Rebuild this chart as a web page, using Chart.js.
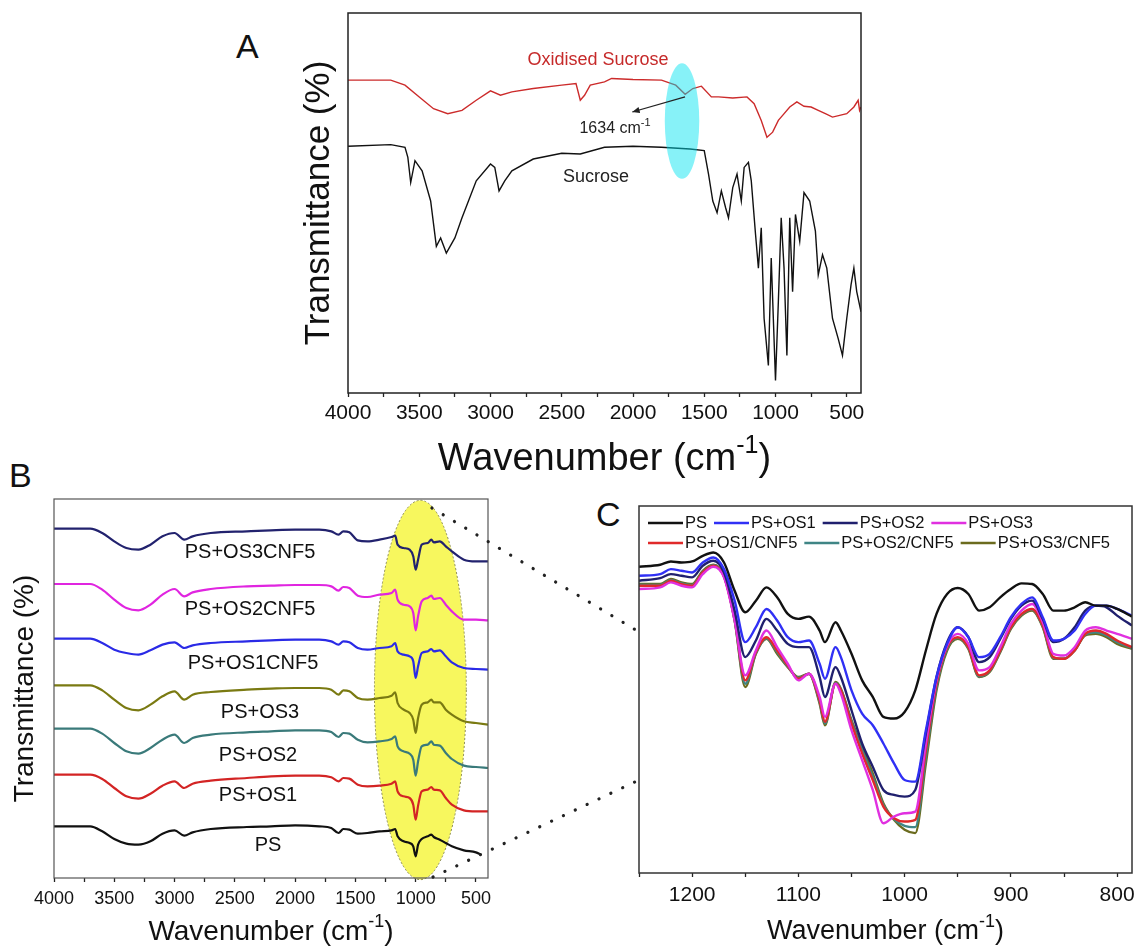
<!DOCTYPE html>
<html>
<head>
<meta charset="utf-8">
<script src="https://cdn.jsdelivr.net/npm/chart.js@4.4.0/dist/chart.umd.min.js"></script>
<style>
body { margin: 0; background: #fff; width: 1137px; height: 947px; position: relative; overflow: hidden; font-family: "Liberation Sans", Arial, sans-serif; }
canvas { position: absolute; }
.tag { position: absolute; font-size: 34px; line-height: 34px; color: #111; }
</style>
</head>
<body>
<div class="tag" style="left:236px;top:29px">A</div>
<div class="tag" style="left:9px;top:458px">B</div>
<div class="tag" style="left:596px;top:497px">C</div>
<canvas id="chartA" width="590" height="480" style="left:290px;top:0"></canvas>
<canvas id="chartB" width="510" height="457" style="left:0;top:490px"></canvas>
<canvas id="chartC" width="580" height="457" style="left:600px;top:490px"></canvas>
<canvas id="links" width="1137" height="947" style="left:0;top:0;pointer-events:none"></canvas>
<script>
// ---- panel A: sucrose vs oxidised sucrose (transmittance, a.u.)
var wnOxidised = [4000,3700,3600,3500,3400,3300,3200,3100,3000,2930,2850,2700,2500,2400,2370,2340,2300,2200,2150,2000,1800,1700,1634,1580,1520,1450,1400,1300,1200,1150,1100,1060,1020,980,950,900,850,800,750,700,650,600,550,500,450,420,410,400];
var tOxidised = [932,932,917,882,847,832,842,872,900,887,897,907,917,922,872,887,917,927,937,934,932,917,890,907,914,882,882,879,882,862,812,762,777,812,827,852,867,854,852,842,832,822,827,832,852,872,842,852];
var wnSucrose = [4000,3700,3600,3580,3560,3530,3480,3420,3380,3350,3310,3250,3200,3100,3000,2970,2940,2900,2850,2700,2500,2370,2200,2000,1800,1600,1500,1470,1440,1410,1380,1350,1330,1300,1270,1240,1220,1190,1170,1140,1120,1100,1080,1050,1030,1000,980,960,940,920,900,880,860,830,800,760,720,700,670,640,600,560,530,500,470,450,430,400];
var tSucrose = [735,740,732,702,627,692,662,572,437,462,417,462,522,632,682,672,602,632,662,697,714,712,732,735,732,727,722,652,572,537,602,552,522,612,652,572,672,687,632,472,372,492,222,82,402,37,272,522,372,112,522,302,532,452,597,572,482,352,412,372,222,162,112,222,322,372,302,242];
var highlightA = [1656, 810, 121, 172];      // centre wn, centre T, half width, half height
var arrowA = [1635, 882, 2005, 837];

// ---- panel B: stacked spectra
var wnB = [4000,3700,3600,3500,3400,3300,3200,3100,3000,2920,2850,2700,2400,2200,2000,1800,1700,1640,1600,1550,1480,1400,1300,1200,1170,1150,1100,1050,1020,1000,980,950,900,870,850,800,750,700,600,500,400];
var wnBPS = [4000,3700,3600,3500,3400,3300,3200,3100,3000,2920,2850,2700,2400,2200,2000,1800,1700,1640,1600,1550,1480,1400,1300,1200,1170,1150,1100,1050,1020,1000,980,950,900,870,850,800,750,700,600,500,460];
var bPS = [155,155,140,117,103,100,110,133,143,127,137,147,153,155,158,155,150,135,147,145,133,135,140,143,147,125,110,105,95,65,100,117,125,130,123,115,105,95,83,77,70];
var bOS1 = [310,310,297,270,245,238,253,277,290,270,283,292,300,305,307,307,302,290,300,298,280,275,277,283,290,260,245,240,220,175,217,260,265,273,265,263,240,220,203,200,200];
var bOS2 = [448,448,433,405,380,373,390,415,430,405,420,430,437,440,443,443,438,423,435,433,415,407,410,417,425,395,380,373,355,307,350,395,400,410,400,397,375,357,337,333,330];
var bOS3 = [578,578,563,535,510,503,520,545,560,535,550,558,565,568,570,570,565,550,563,560,540,535,540,547,557,525,505,495,475,435,480,520,527,535,527,527,505,490,470,465,460];
var bOS1CNF5 = [718,718,705,685,675,670,683,700,707,690,698,705,710,713,715,715,710,700,710,707,690,685,690,695,705,680,670,665,650,600,635,675,680,687,680,683,665,647,630,627,625];
var bOS2CNF5 = [882,882,865,835,810,803,820,850,867,845,857,867,875,877,879,879,875,862,873,870,847,843,850,855,865,835,820,815,795,743,785,830,840,847,837,840,820,800,775,775,773];
var bOS3CNF5 = [1048,1048,1035,1010,990,985,1000,1025,1035,1015,1025,1035,1040,1043,1045,1045,1040,1030,1040,1037,1013,1010,1015,1023,1027,1000,990,985,965,925,955,1000,1005,1015,1007,1010,995,980,955,950,950];
var labelsB = ['PS', 'PS+OS1', 'PS+OS2', 'PS+OS3', 'PS+OS1CNF5', 'PS+OS2CNF5', 'PS+OS3CNF5'];
var labelPosB = [[2225,99],[2308,249],[2308,369],[2291,498],[2349,645],[2374,807],[2374,978]];
var highlightB = [961, 564, 381, 569];

// ---- panel C: zoom 1250-786 cm-1
var wnC = [1250,1230,1220,1210,1200,1190,1180,1170,1160,1150,1140,1130,1120,1110,1100,1090,1080,1075,1065,1060,1050,1040,1030,1020,1010,1000,990,980,970,960,950,940,930,920,910,900,890,880,870,860,850,840,830,820,810,800,786];
var cPS = [922,928,938,935,938,955,965,935,850,785,820,860,830,780,765,772,730,695,755,730,660,580,530,470,465,485,550,670,780,840,858,840,790,800,830,855,872,870,840,790,790,800,815,805,805,795,772];
var cOS1 = [895,900,915,910,905,935,950,915,820,695,740,795,760,710,695,700,630,585,680,650,550,480,445,390,330,280,275,430,590,690,740,710,650,660,710,770,810,830,770,700,705,730,780,805,805,795,775];
var cOS2 = [880,888,900,895,890,925,940,905,790,650,700,765,730,690,680,680,590,530,620,590,490,390,320,250,235,230,250,420,590,695,740,710,635,650,705,765,805,820,765,695,705,740,790,805,800,775,745];
var cOS3 = [855,860,875,865,860,900,922,890,760,595,670,730,680,630,580,600,530,470,570,540,430,340,250,150,170,180,185,390,580,685,720,690,610,620,680,750,790,810,755,660,655,680,730,740,730,720,705];
var cOS1CNF5 = [865,865,880,870,865,905,925,892,765,580,665,710,670,625,585,600,520,455,570,550,450,360,280,200,165,155,160,370,570,680,710,680,595,610,670,740,780,795,745,650,645,670,720,730,720,700,680];
var cOS2CNF5 = [868,867,882,872,867,907,927,894,762,570,662,707,665,622,588,600,515,450,572,552,455,370,290,205,162,142,138,350,560,675,708,678,592,608,668,738,778,793,742,648,645,670,718,725,715,695,678];
var cOS3CNF5 = [870,870,885,875,870,910,928,895,760,560,660,705,660,620,590,600,510,445,575,555,460,380,300,210,160,130,120,330,550,670,705,675,590,605,665,735,775,790,740,645,645,670,715,720,710,690,675];
var labelsC = ['PS', 'PS+OS1', 'PS+OS2', 'PS+OS3', 'PS+OS1/CNF5', 'PS+OS2/CNF5', 'PS+OS3/CNF5'];

var linksBC = [[865, 1110, 1250, 726], [856, 3, 1246, 286]];

var FONT = '"Liberation Sans", Arial, Helvetica, sans-serif';

function pts(xs, ys) {
    return xs.map((x, i) => ({x: x, y: ys[i]}));
}

function frame(color, width) {
    return {
        id: 'frame',
        afterDatasetsDraw(chart) {
            const {ctx, chartArea: a} = chart;
            ctx.save();
            ctx.strokeStyle = color;
            ctx.lineWidth = width;
            ctx.strokeRect(a.left, a.top, a.right - a.left, a.bottom - a.top);
            ctx.restore();
        }
    };
}

// text with a raised exponent, e.g. "cm" + "-1"
function supText(ctx, main, sup, tail, cx, baseY, size, color) {
    ctx.save();
    ctx.fillStyle = color;
    ctx.textAlign = 'left';
    ctx.textBaseline = 'alphabetic';
    const big = size + 'px ' + FONT, small = Math.round(size * 0.66) + 'px ' + FONT;
    ctx.font = big;
    const w1 = ctx.measureText(main).width, w3 = ctx.measureText(tail).width;
    ctx.font = small;
    const w2 = ctx.measureText(sup).width;
    let x = cx - (w1 + w2 + w3) / 2;
    ctx.font = big; ctx.fillText(main, x, baseY); x += w1;
    ctx.font = small; ctx.fillText(sup, x, baseY - size * 0.45); x += w2;
    ctx.font = big; ctx.fillText(tail, x, baseY);
    ctx.restore();
}

function wnTitle(size, gap) {
    return {
        id: 'wnTitle',
        afterDraw(chart) {
            const a = chart.chartArea;
            supText(chart.ctx, 'Wavenumber (cm', '-1', ')', (a.left + a.right) / 2, a.bottom + gap, size, '#111');
        }
    };
}

function xAxis(min, max, step, every, size, pad, height) {
    return {
        type: 'linear', reverse: true, min: min, max: max,
        afterFit: s => { s.height = height; },
        border: {display: false},
        grid: {drawOnChartArea: false, drawTicks: true, tickLength: 4, tickWidth: 1.3, color: '#222'},
        ticks: {
            stepSize: step, includeBounds: false, autoSkip: false, maxRotation: 0, padding: pad,
            color: '#111', font: {family: FONT, size: size},
            callback: v => v % every === 0 ? String(v) : ''
        }
    };
}

function yAxis(max, width, size, pad) {
    return {
        min: 0, max: max,
        afterFit: s => { s.width = width; },
        border: {display: false},
        grid: {display: false},
        ticks: {display: false},
        title: {display: true, text: 'Transmittance (%)', color: '#111', font: {family: FONT, size: size}, padding: {top: pad, bottom: 0}}
    };
}

function line(label, xs, ys, color, width, smooth) {
    return {
        label: label, data: pts(xs, ys), borderColor: color, backgroundColor: color,
        borderWidth: width, pointRadius: 0, fill: false,
        cubicInterpolationMode: smooth ? 'monotone' : 'default', tension: 0
    };
}

function ellipseAt(ctx, x, y, h) {
    const cx = x.getPixelForValue(h[0]), cy = y.getPixelForValue(h[1]);
    const rx = Math.abs(x.getPixelForValue(h[0] + h[2]) - cx);
    const ry = Math.abs(y.getPixelForValue(h[1] + h[3]) - cy);
    ctx.beginPath();
    ctx.ellipse(cx, cy, rx, ry, 0, 0, Math.PI * 2);
}

var annotA = {
    id: 'annotA',
    afterDatasetsDraw(chart) {
        const {ctx, scales: {x, y}} = chart;
        ctx.save();
        ctx.fillStyle = 'rgba(0, 228, 240, 0.47)';
        ellipseAt(ctx, x, y, highlightA);
        ctx.fill();
        // arrow toward the label
        const x1 = x.getPixelForValue(arrowA[0]), y1 = y.getPixelForValue(arrowA[1]);
        const x2 = x.getPixelForValue(arrowA[2]), y2 = y.getPixelForValue(arrowA[3]);
        const ang = Math.atan2(y2 - y1, x2 - x1);
        ctx.strokeStyle = '#222'; ctx.fillStyle = '#222'; ctx.lineWidth = 1.2;
        ctx.beginPath(); ctx.moveTo(x1, y1); ctx.lineTo(x2, y2); ctx.stroke();
        ctx.beginPath();
        ctx.moveTo(x2, y2);
        ctx.lineTo(x2 - 8 * Math.cos(ang - 0.4), y2 - 8 * Math.sin(ang - 0.4));
        ctx.lineTo(x2 - 8 * Math.cos(ang + 0.4), y2 - 8 * Math.sin(ang + 0.4));
        ctx.closePath(); ctx.fill();
        ctx.textAlign = 'center'; ctx.textBaseline = 'middle';
        ctx.font = '18px ' + FONT;
        ctx.fillStyle = '#c62a2a';
        ctx.fillText('Oxidised Sucrose', x.getPixelForValue(2246), y.getPixelForValue(992));
        ctx.fillStyle = '#222';
        ctx.fillText('Sucrose', x.getPixelForValue(2260), y.getPixelForValue(643));
        ctx.restore();
        supText(ctx, '1634 cm', '-1', '', x.getPixelForValue(2126), y.getPixelForValue(792) + 6, 16, '#222');
    }
};

var ellipseB = {
    id: 'ellipseB',
    beforeDatasetsDraw(chart) {
        const {ctx, scales: {x, y}} = chart;
        ctx.save();
        ellipseAt(ctx, x, y, highlightB);
        ctx.fillStyle = '#f7f75e';
        ctx.fill();
        ctx.setLineDash([2, 2]);
        ctx.strokeStyle = '#8d8d55';
        ctx.lineWidth = 1;
        ctx.stroke();
        ctx.restore();
    },
    afterDatasetsDraw(chart) {
        const {ctx, scales: {x, y}} = chart;
        ctx.save();
        ctx.font = '20px ' + FONT;
        ctx.fillStyle = '#111';
        ctx.textAlign = 'center'; ctx.textBaseline = 'middle';
        labelsB.forEach((t, i) => ctx.fillText(t, x.getPixelForValue(labelPosB[i][0]), y.getPixelForValue(labelPosB[i][1])));
        ctx.restore();
    }
};

var legendC = {
    id: 'legendC',
    afterDatasetsDraw(chart) {
        const {ctx, chartArea: a} = chart;
        const rows = [[0, 1, 2, 3], [4, 5, 6]];
        ctx.save();
        ctx.font = '16.5px ' + FONT;
        ctx.textBaseline = 'middle';
        rows.forEach((row, r) => {
            let x = a.left + 9;
            const y = a.top + 17 + r * 20;
            row.forEach(i => {
                const ds = chart.data.datasets[i];
                ctx.strokeStyle = ds.borderColor; ctx.lineWidth = 2.5;
                ctx.beginPath(); ctx.moveTo(x, y); ctx.lineTo(x + 35, y); ctx.stroke();
                ctx.fillStyle = '#111';
                ctx.fillText(ds.label, x + 37, y);
                x += 37 + ctx.measureText(ds.label).width + 7;
            });
        });
        ctx.restore();
    }
};

var base = {
    responsive: false, animation: false, events: [],
    plugins: {legend: {display: false}, tooltip: {enabled: false}}
};

var chartA = new Chart('chartA', {
    type: 'line',
    data: {datasets: [
        line('Oxidised Sucrose', wnOxidised, tOxidised, '#cc2b2b', 1.4, false),
        line('Sucrose', wnSucrose, tSucrose, '#111', 1.4, false)
    ]},
    options: Object.assign({}, base, {
        layout: {padding: {left: 0, top: 13, right: 19, bottom: 0}},
        scales: {x: xAxis(400, 4000, 250, 500, 21, 4, 87), y: yAxis(1132, 58, 35, 8)}
    }),
    plugins: [annotA, frame('#222', 1.5), wnTitle(38, 77)]
});

var colorsB = ['#111', '#d32424', '#3a7a7a', '#7a7a12', '#2a2ae6', '#e025e0', '#22226e'];
var seriesB = [bPS, bOS1, bOS2, bOS3, bOS1CNF5, bOS2CNF5, bOS3CNF5];
var chartB = new Chart('chartB', {
    type: 'line',
    data: {datasets: seriesB.map((s, i) => line(labelsB[i], i === 0 ? wnBPS : wnB, s, colorsB[i], 2.2, true))},
    options: Object.assign({}, base, {
        layout: {padding: {left: 0, top: 9, right: 22, bottom: 0}},
        scales: {x: xAxis(400, 4000, 250, 500, 18, 6, 69), y: yAxis(1137, 54, 28, 8)}
    }),
    plugins: [ellipseB, frame('#555', 1.2), wnTitle(28, 62)]
});

var colorsC = ['#111', '#3030f5', '#20206e', '#e030e0', '#e02a2a', '#3f8585', '#6b6b1e'];
var seriesC = [cPS, cOS1, cOS2, cOS3, cOS1CNF5, cOS2CNF5, cOS3CNF5];
var chartC = new Chart('chartC', {
    type: 'line',
    data: {datasets: seriesC.map((s, i) => line(labelsC[i], wnC, s, colorsC[i], 2.4, true))},
    options: Object.assign({}, base, {
        layout: {padding: {left: 39, top: 16, right: 48, bottom: 0}},
        scales: {x: xAxis(786, 1250, 50, 100, 21, 6, 74), y: {display: false, min: 0, max: 1105}}
    }),
    plugins: [legendC, frame('#333', 1.5), wnTitle(27, 66)]
});

// dotted guide lines from the highlighted region in B to panel C
function drawLinks() {
    const ctx = document.getElementById('links').getContext('2d');
    const ob = document.getElementById('chartB'), oc = document.getElementById('chartC');
    ctx.strokeStyle = '#222';
    ctx.lineWidth = 3.2;
    ctx.lineCap = 'round';
    ctx.setLineDash([0.1, 13]);
    linksBC.forEach(l => {
        ctx.beginPath();
        ctx.moveTo(ob.offsetLeft + chartB.scales.x.getPixelForValue(l[0]), ob.offsetTop + chartB.scales.y.getPixelForValue(l[1]));
        ctx.lineTo(oc.offsetLeft + chartC.scales.x.getPixelForValue(l[2]), oc.offsetTop + chartC.scales.y.getPixelForValue(l[3]));
        ctx.stroke();
    });
}
drawLinks();
</script>
</body>
</html>
